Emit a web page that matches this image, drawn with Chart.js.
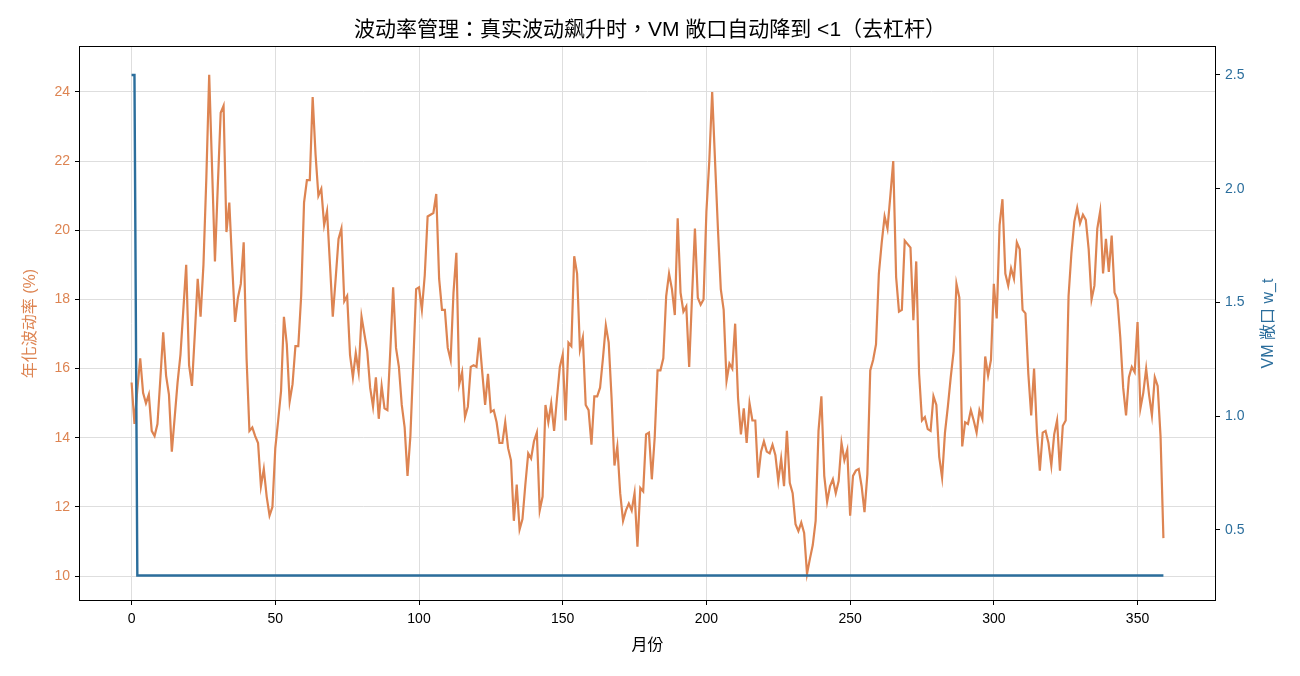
<!DOCTYPE html>
<html><head><meta charset="utf-8">
<script src="https://cdn.jsdelivr.net/npm/chart.js@4.4.1/dist/chart.umd.min.js"></script>
<style>html,body{margin:0;padding:0;background:#fff;}canvas{display:block;}</style>
</head><body>
<canvas id="c" width="1300" height="676"></canvas>
<script>
// ---- data (annualised volatility %, months 0-359) ----
const volA = [15.6,14.4,15.4,16.3,15.3,15.0,15.25,14.2,14.05,14.4,
  15.7,17.05,15.8,15.25,13.6,14.6,15.6,16.4,17.7,19.0,
  16.1,15.5,17.0,18.6,17.5,19.0,21.5,24.5,21.8,19.1,
  21.3,23.4,23.6,19.95,20.8,19.0,17.35,18.05,18.45,19.65,
  16.3,14.2,14.3,14.05,13.85,12.6,13.1,12.3,11.75,12.0,
  13.7,14.5,15.35,17.5,16.7,15.05,15.55,16.65,16.65,18.1];
const volB = [20.8,21.45,21.45,23.85,22.2,21.0,21.2,20.15,20.55,19.05,
  17.5,18.6,19.75,20.05,17.95,18.1,16.4,15.75,16.45,15.9,
  17.5,17.0,16.5,15.45,14.9,15.75,14.55,15.5,14.85,14.8,
  16.5,18.35,16.6,16.05,14.95,14.3,12.9,14.05,16.15,18.3,
  18.35,17.7,18.7,20.4,20.45,20.5,21.05,18.6,17.7,17.7,
  16.6,16.25,18.2,19.35,15.55,15.9,14.6,14.9,16.05,16.1];
const volC = [16.05,16.9,15.9,14.95,15.85,14.75,14.8,14.45,13.85,13.85,
  14.45,13.7,13.35,11.6,12.65,11.35,11.65,12.65,13.55,13.4,
  13.9,14.15,11.9,12.3,14.95,14.45,15.0,14.2,15.15,16.05,
  16.4,14.5,16.75,16.65,19.25,18.75,16.55,16.9,14.95,14.8,
  13.8,15.2,15.2,15.45,16.3,17.25,16.75,15.15,13.2,13.75,
  12.4,11.6,11.9,12.1,11.9,12.4,10.85,12.55,12.45,14.1];
const volD = [14.15,12.8,14.0,15.95,15.95,16.3,18.1,18.75,18.3,17.55,
  20.35,18.2,17.65,17.8,16.05,18.1,20.05,18.05,17.85,18.0,
  20.55,22.0,24.0,22.0,20.05,18.3,17.7,15.65,16.15,16.0,
  17.3,15.15,14.1,14.85,13.85,15.0,14.5,14.5,12.85,13.6,
  13.9,13.6,13.55,13.8,13.5,12.75,13.4,12.6,14.2,12.7,
  12.4,11.5,11.3,11.55,11.25,10.07,10.5,10.9,11.6,14.2];
const volE = [15.2,12.9,12.15,12.6,12.8,12.4,12.75,13.85,13.35,13.65,
  11.75,12.9,13.05,13.1,12.6,11.85,12.95,15.95,16.25,16.7,
  18.75,19.65,20.4,20.05,21.0,22.0,18.65,17.65,17.7,19.7,
  19.6,19.5,17.4,19.1,15.85,14.5,14.6,14.25,14.2,15.2,
  14.95,13.45,12.85,14.15,14.9,15.75,16.5,18.45,18.05,13.75,
  14.45,14.4,14.8,14.5,14.15,14.8,14.55,16.35,15.8,16.25];
const volF = [18.45,17.45,20.15,20.9,18.75,18.4,18.9,18.6,19.65,19.45,
  17.7,17.6,15.85,14.65,16.0,14.15,13.05,14.15,14.2,13.85,
  13.2,14.1,14.5,13.05,14.35,14.5,18.1,19.35,20.25,20.65,
  20.2,20.45,20.3,19.45,18.0,18.4,20.05,20.55,18.75,19.75,
  18.8,19.85,18.2,18.0,16.9,15.45,14.65,15.75,16.05,15.9,
  17.35,14.85,15.3,16.0,15.25,14.65,15.75,15.5,14.05,11.1];
// ---- VM exposure w_t ----
const wt = [2.5,2.5,0.3,0.3,0.3,0.3,0.3,0.3,0.3,0.3,0.3,0.3,0.3,0.3,0.3,0.3,0.3,0.3,0.3,0.3,
0.3,0.3,0.3,0.3,0.3,0.3,0.3,0.3,0.3,0.3,0.3,0.3,0.3,0.3,0.3,0.3,0.3,0.3,0.3,0.3,
0.3,0.3,0.3,0.3,0.3,0.3,0.3,0.3,0.3,0.3,0.3,0.3,0.3,0.3,0.3,0.3,0.3,0.3,0.3,0.3,
0.3,0.3,0.3,0.3,0.3,0.3,0.3,0.3,0.3,0.3,0.3,0.3,0.3,0.3,0.3,0.3,0.3,0.3,0.3,0.3,
0.3,0.3,0.3,0.3,0.3,0.3,0.3,0.3,0.3,0.3,0.3,0.3,0.3,0.3,0.3,0.3,0.3,0.3,0.3,0.3,
0.3,0.3,0.3,0.3,0.3,0.3,0.3,0.3,0.3,0.3,0.3,0.3,0.3,0.3,0.3,0.3,0.3,0.3,0.3,0.3,
0.3,0.3,0.3,0.3,0.3,0.3,0.3,0.3,0.3,0.3,0.3,0.3,0.3,0.3,0.3,0.3,0.3,0.3,0.3,0.3,
0.3,0.3,0.3,0.3,0.3,0.3,0.3,0.3,0.3,0.3,0.3,0.3,0.3,0.3,0.3,0.3,0.3,0.3,0.3,0.3,
0.3,0.3,0.3,0.3,0.3,0.3,0.3,0.3,0.3,0.3,0.3,0.3,0.3,0.3,0.3,0.3,0.3,0.3,0.3,0.3,
0.3,0.3,0.3,0.3,0.3,0.3,0.3,0.3,0.3,0.3,0.3,0.3,0.3,0.3,0.3,0.3,0.3,0.3,0.3,0.3,
0.3,0.3,0.3,0.3,0.3,0.3,0.3,0.3,0.3,0.3,0.3,0.3,0.3,0.3,0.3,0.3,0.3,0.3,0.3,0.3,
0.3,0.3,0.3,0.3,0.3,0.3,0.3,0.3,0.3,0.3,0.3,0.3,0.3,0.3,0.3,0.3,0.3,0.3,0.3,0.3,
0.3,0.3,0.3,0.3,0.3,0.3,0.3,0.3,0.3,0.3,0.3,0.3,0.3,0.3,0.3,0.3,0.3,0.3,0.3,0.3,
0.3,0.3,0.3,0.3,0.3,0.3,0.3,0.3,0.3,0.3,0.3,0.3,0.3,0.3,0.3,0.3,0.3,0.3,0.3,0.3,
0.3,0.3,0.3,0.3,0.3,0.3,0.3,0.3,0.3,0.3,0.3,0.3,0.3,0.3,0.3,0.3,0.3,0.3,0.3,0.3,
0.3,0.3,0.3,0.3,0.3,0.3,0.3,0.3,0.3,0.3,0.3,0.3,0.3,0.3,0.3,0.3,0.3,0.3,0.3,0.3,
0.3,0.3,0.3,0.3,0.3,0.3,0.3,0.3,0.3,0.3,0.3,0.3,0.3,0.3,0.3,0.3,0.3,0.3,0.3,0.3,
0.3,0.3,0.3,0.3,0.3,0.3,0.3,0.3,0.3,0.3,0.3,0.3,0.3,0.3,0.3,0.3,0.3,0.3,0.3,0.3];
// ---- ticks / labels ----
const xTicks = [0,50,100,150,200,250,300,350];
const yTicks = [10,12,14,16,18,20,22,24];
const y1Ticks = [0.5,1.0,1.5,2.0,2.5];
const TITLE = '波动率管理：真实波动飙升时，VM 敞口自动降到 <1（去杠杆）';
const X_LABEL = '月份';
const Y_LABEL = '年化波动率 (%)';
const Y1_LABEL = 'VM 敞口 w_t';

const vol = volA.concat(volB, volC, volD, volE, volF);
const months = vol.map((_, i) => i);
const volPts = months.map((m, i) => ({x: m, y: vol[i]}));
const wtPts = months.map((m, i) => ({x: m, y: wt[i]}));

const FONT = "'Liberation Sans','Noto Sans CJK TC',sans-serif";
const ORANGE = '#dd8452';
const BLUE = '#2b6e9c';
const GRID = '#dedede';

const framePlugin = {
  id: 'frame',
  afterDraw(chart) {
    const {ctx, chartArea: a} = chart;
    ctx.save();
    ctx.strokeStyle = '#000';
    ctx.lineWidth = 1;
    ctx.strokeRect(Math.round(a.left) - 0.5, Math.round(a.top) - 0.5,
      Math.round(a.right - a.left) + 1, Math.round(a.bottom - a.top) + 1);
    // right axis label, reading bottom-to-top
    ctx.translate(1269, (a.top + a.bottom) / 2);
    ctx.rotate(-Math.PI / 2);
    ctx.font = '16px ' + FONT;
    ctx.fillStyle = BLUE;
    ctx.textAlign = 'center';
    ctx.textBaseline = 'middle';
    ctx.fillText(Y1_LABEL, 0, 0);
    ctx.restore();
  }
};

new Chart(document.getElementById('c'), {
  type: 'line',
  data: {
    datasets: [
      {label: 'w_t', data: wtPts, yAxisID: 'y1', borderColor: BLUE, borderWidth: 2.4,
       pointRadius: 0, tension: 0, fill: false},
      {label: 'vol', data: volPts, yAxisID: 'y', borderColor: ORANGE, borderWidth: 2.2,
       pointRadius: 0, tension: 0, fill: false}
    ]
  },
  options: {
    responsive: false,
    animation: false,
    devicePixelRatio: 1,
    layout: {padding: 0},
    plugins: {
      legend: {display: false},
      tooltip: {enabled: false},
      title: {display: true, text: TITLE, color: '#000',
        font: {family: FONT, size: 21, weight: 'normal'}, padding: {top: 18, bottom: 3.8}}
    },
    scales: {
      x: {
        type: 'linear', position: 'bottom', min: -17.95, max: 376.95,
        afterBuildTicks: s => { s.ticks = xTicks.map(v => ({value: v})); },
        afterFit: s => { s.height = 76; },
        ticks: {color: '#000', font: {family: FONT, size: 14}, padding: 6, maxRotation: 0,
          callback: v => String(v)},
        grid: {color: GRID, lineWidth: 1, tickLength: 5, tickColor: '#000'},
        border: {display: false},
        title: {display: true, text: X_LABEL, color: '#000',
          font: {family: FONT, size: 16}, padding: {top: 0, bottom: 21}}
      },
      y: {
        type: 'linear', position: 'left', min: 9.31, max: 25.30,
        afterBuildTicks: s => { s.ticks = yTicks.map(v => ({value: v})); },
        afterFit: s => { s.width = 80; },
        ticks: {color: ORANGE, font: {family: FONT, size: 14}, padding: 5,
          callback: v => String(v)},
        grid: {color: GRID, lineWidth: 1, tickLength: 5, tickColor: '#000'},
        border: {display: false},
        title: {display: true, text: Y_LABEL, color: ORANGE,
          font: {family: FONT, size: 16}, padding: {top: 21, bottom: 0}}
      },
      y1: {
        type: 'linear', position: 'right', min: 0.192, max: 2.623,
        afterBuildTicks: s => { s.ticks = y1Ticks.map(v => ({value: v})); },
        afterFit: s => { s.width = 85; },
        ticks: {color: BLUE, font: {family: FONT, size: 14}, padding: 5,
          callback: v => Number(v).toFixed(1)},
        grid: {drawOnChartArea: false, tickLength: 5, tickColor: '#000'},
        border: {display: false}
      }
    }
  },
  plugins: [framePlugin]
});
</script>
</body></html>
